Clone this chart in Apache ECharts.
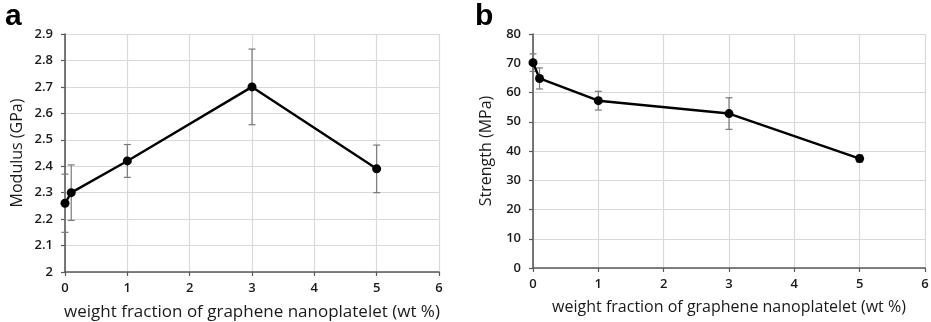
<!DOCTYPE html>
<html><head><meta charset="utf-8">
<script src="https://cdn.jsdelivr.net/npm/echarts@6/dist/echarts.min.js"></script>
<style>html,body{margin:0;padding:0;background:#fff}#c{width:931px;height:322px}</style>
</head><body><div id="c"></div>
<script>
const xTicks = [0,1,2,3,4,5,6];
const xA = [0, 0.1, 1, 3, 5];
const modulus = [2.26, 2.30, 2.42, 2.70, 2.39];
const modulusErr = [0.11, 0.105, 0.062, 0.143, 0.09];
const xB = [0, 0.1, 1, 3, 5];
const strength = [70.2, 64.8, 57.2, 52.8, 37.4];
const strengthErr = [3.0, 3.6, 3.2, 5.4, 1.2];
const yTicksA = ['2','2.1','2.2','2.3','2.4','2.5','2.6','2.7','2.8','2.9'];
const yTicksB = ['0','10','20','30','40','50','60','70','80'];
const xTitle = 'weight fraction of graphene nanoplatelet (wt %)';

const font = 'Open Sans';
const chart = echarts.init(document.getElementById('c'), null, {renderer:'canvas'});

function errSeries(xi, yi, xs, ys, es) {
  return {
    type:'custom', xAxisIndex:xi, yAxisIndex:yi, z:1, silent:true,
    data: xs.map((x,i)=>[x, ys[i]-es[i], ys[i]+es[i]]),
    renderItem(params, api){
      const lo = api.coord([api.value(0), api.value(1)]);
      const hi = api.coord([api.value(0), api.value(2)]);
      const w = 3.5;
      const st = {stroke:'#7a7a7a', lineWidth:1.2};
      return {type:'group', children:[
        {type:'line', shape:{x1:lo[0],y1:lo[1],x2:hi[0],y2:hi[1]}, style:st},
        {type:'line', shape:{x1:lo[0]-w,y1:lo[1],x2:lo[0]+w,y2:lo[1]}, style:st},
        {type:'line', shape:{x1:hi[0]-w,y1:hi[1],x2:hi[0]+w,y2:hi[1]}, style:st}
      ]};
    }
  };
}

const labelStyle = {color:'#1a1a1a', fontFamily:font, fontSize:13, fontWeight:600};

function xAxisDef(gi){
  return {
    type:'value', gridIndex:gi, min:0, max:6, interval:1,
    axisLine:{show:true, onZero:false, lineStyle:{color:'#595959', width:1.6}},
    axisTick:{show:true, length:4, lineStyle:{color:'#595959', width:1.2}},
    axisLabel:Object.assign({margin:10, formatter:v=>String(xTicks[Math.round(v)])}, labelStyle),
    splitLine:{show:true, lineStyle:{color:'#d9d9d9', width:1.2}},
    name:xTitle, nameLocation:'middle', nameGap: gi===0 ? 32 : 31,
    nameTextStyle:{color:'#1a1a1a', fontFamily:font, fontSize: gi===0 ? 17 : 16}
  };
}

const option = {
  animation:false,
  backgroundColor:'#fff',
  grid:[
    {left:65, top:34, width:374, height:238, outerBoundsMode:'none', containLabel:false},
    {left:533, top:34, width:392, height:234, outerBoundsMode:'none', containLabel:false}
  ],
  xAxis:[xAxisDef(0), xAxisDef(1)],
  yAxis:[
    {type:'value', gridIndex:0, min:2, max:2.9, interval:0.1,
     axisLine:{show:true, lineStyle:{color:'#595959', width:1.6}},
     axisTick:{show:true, length:4, lineStyle:{color:'#595959', width:1.2}},
     axisLabel:Object.assign({margin:12, formatter:v=>yTicksA[Math.round((v-2)*10)]}, labelStyle),
     splitLine:{show:true, lineStyle:{color:'#d9d9d9', width:1.2}},
     name:'Modulus (GPa)', nameLocation:'middle', nameGap:40,
     nameTextStyle:{color:'#1a1a1a', fontFamily:font, fontSize:16}},
    {type:'value', gridIndex:1, min:0, max:80, interval:10,
     axisLine:{show:true, lineStyle:{color:'#595959', width:1.6}},
     axisTick:{show:true, length:4, lineStyle:{color:'#595959', width:1.2}},
     axisLabel:Object.assign({margin:12, formatter:v=>yTicksB[Math.round(v/10)]}, labelStyle),
     splitLine:{show:true, lineStyle:{color:'#d9d9d9', width:1.2}},
     name:'Strength (MPa)', nameLocation:'middle', nameGap:39,
     nameTextStyle:{color:'#1a1a1a', fontFamily:font, fontSize:16}}
  ],
  graphic:[
    {type:'text', left:5, top:2, style:{text:'a', font:'bold 30px "Liberation Sans"', fill:'#000'}},
    {type:'text', left:475, top:2, style:{text:'b', font:'bold 30px "Liberation Sans"', fill:'#000'}}
  ],
  series:[
    errSeries(0,0,xA,modulus,modulusErr),
    {type:'line', xAxisIndex:0, yAxisIndex:0, z:3, data:xA.map((x,i)=>[x,modulus[i]]),
     symbol:'circle', symbolSize:9, lineStyle:{color:'#000', width:2.4}, itemStyle:{color:'#000'}},
    errSeries(1,1,xB,strength,strengthErr),
    {type:'line', xAxisIndex:1, yAxisIndex:1, z:3, data:xB.map((x,i)=>[x,strength[i]]),
     symbol:'circle', symbolSize:9, lineStyle:{color:'#000', width:2.4}, itemStyle:{color:'#000'}}
  ]
};
chart.setOption(option);
</script></body></html>
